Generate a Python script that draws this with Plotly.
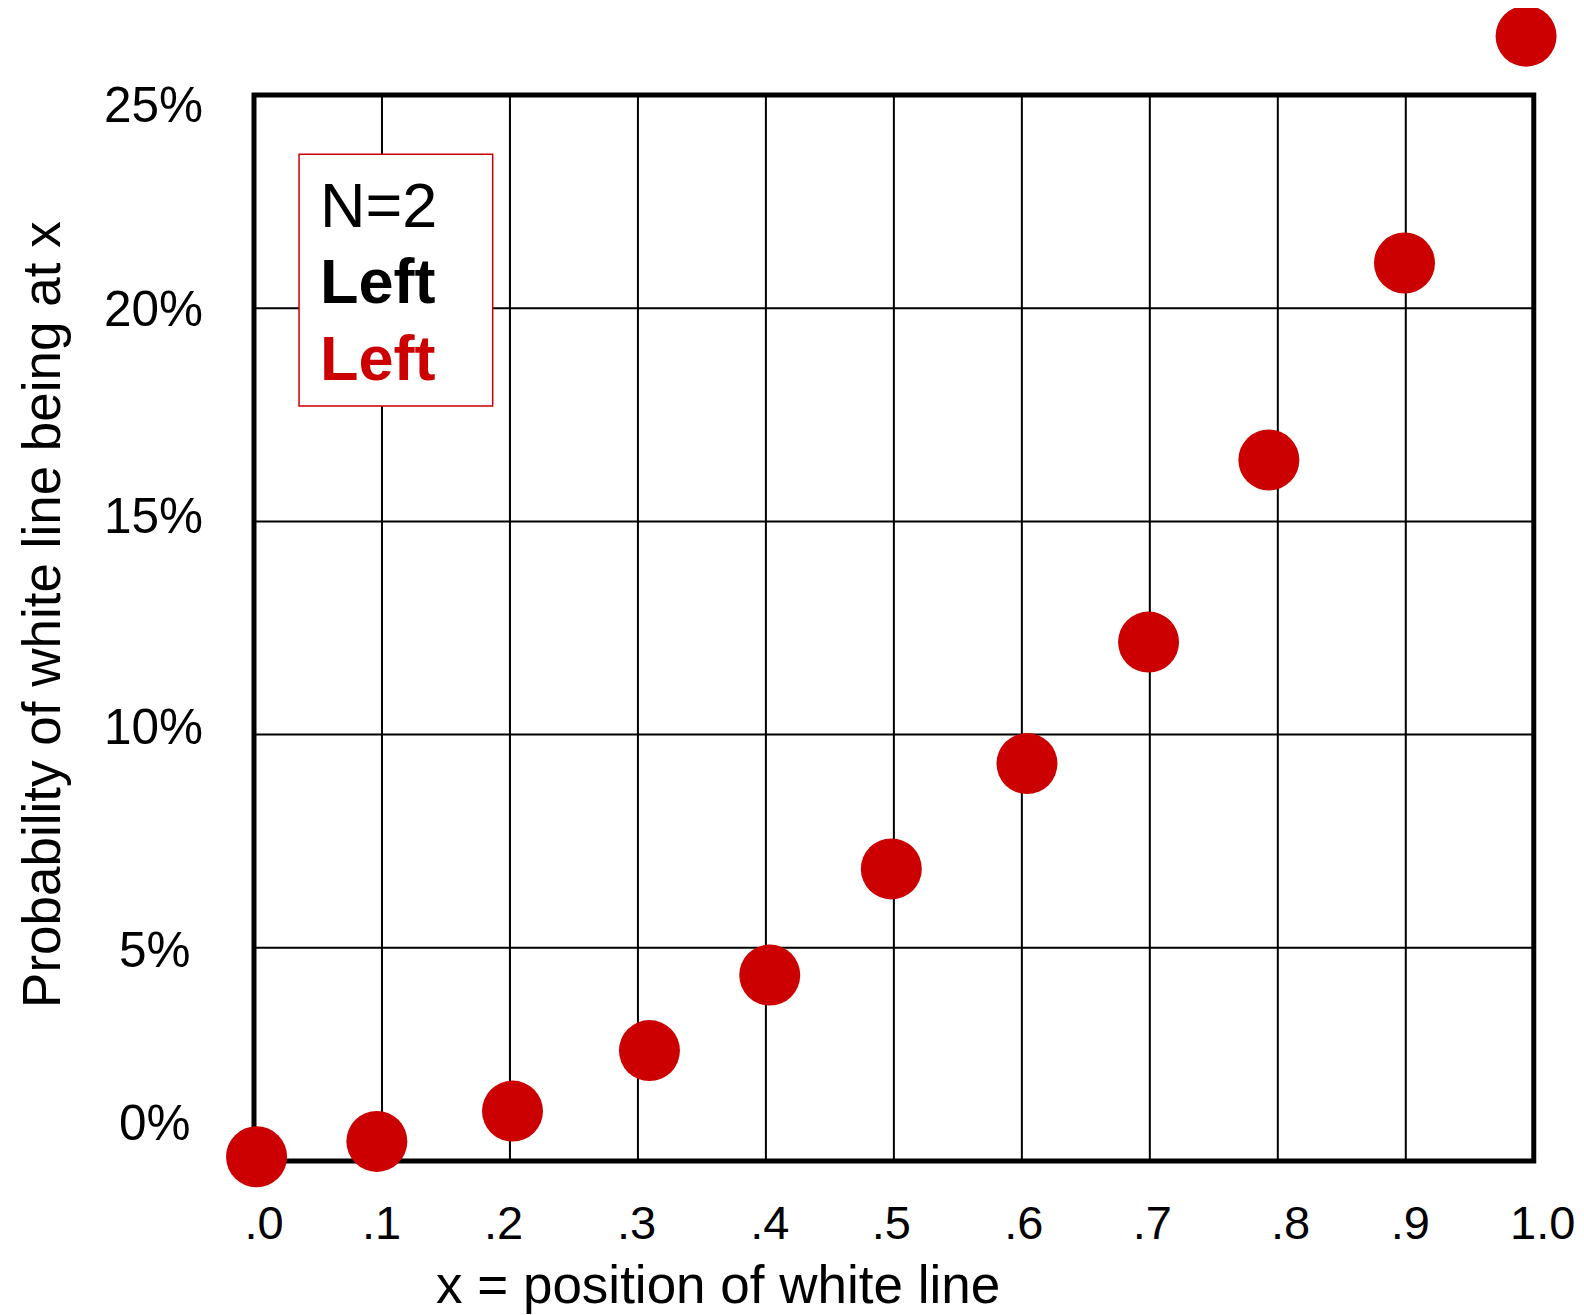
import plotly.graph_objects as go

# ---- data ----
x_pos = [0.002, 0.096, 0.202, 0.309, 0.403, 0.498, 0.604, 0.699, 0.793, 0.899, 0.994]
prob_pct = [0.10, 0.46, 1.17, 2.59, 4.36, 6.85, 9.32, 12.17, 16.44, 21.06, 26.38]

x_grid = [0.0, 0.1, 0.2, 0.3, 0.4, 0.5, 0.6, 0.7, 0.8, 0.9, 1.0]
x_tick_text = [".0", ".1", ".2", ".3", ".4", ".5", ".6", ".7", ".8", ".9", "1.0"]
# where the x labels sit in the original (slightly off the gridlines)
x_label_pos = [0.0078, 0.0997, 0.195, 0.299, 0.403, 0.498, 0.6016, 0.702, 0.810, 0.9035, 1.007]

y_grid = [0, 5, 10, 15, 20, 25]
y_tick_text = ["0%\u2005", "5%\u2005", "10%", "15%", "20%", "25%"]
# where the y labels sit in the original (slightly off the gridlines)
y_label_pos = [0.89, 4.95, 10.18, 15.14, 20.0, 24.77]

legend_lines = ["N=2", "<b>Left</b>", "<b>Left</b>"]
legend_colors = ["black", "black", "#CC0000"]

RED = "#CC0000"
FONT = "Liberation Sans, Arial, sans-serif"
Y_TOP = 27.04   # headroom above the 25% frame so the last dot shows
X_RIGHT = 1.008  # a little room so the "1.0" label is kept

fig = go.Figure()
fig.add_trace(go.Scatter(
    x=x_pos, y=prob_pct, mode="markers",
    marker=dict(size=61, color=RED, line=dict(width=0)),
    cliponaxis=False, showlegend=False, hoverinfo="skip",
))

shapes = []
for g in y_grid[1:-1]:
    shapes.append(dict(type="line", xref="x", yref="y", x0=0, x1=1, y0=g, y1=g,
                       line=dict(color="black", width=2), layer="below"))
for g in x_grid[1:-1]:
    shapes.append(dict(type="line", xref="x", yref="y", x0=g, x1=g, y0=0, y1=y_grid[-1],
                       line=dict(color="black", width=2), layer="below"))
# frame (paper coords so it is not clipped)
shapes.append(dict(type="rect", xref="paper", yref="paper", x0=0, x1=1 / X_RIGHT,
                   y0=0, y1=y_grid[-1] / Y_TOP,
                   line=dict(color="black", width=5), layer="below"))
# legend box
shapes.append(dict(type="rect", xref="x", yref="paper",
                   x0=0.0352, x1=0.1865, y0=0.6548, y1=0.8731,
                   fillcolor="white", line=dict(color=RED, width=1.5), layer="above"))

annotations = []
leg_y = [0.8291, 0.7628, 0.6962]
for txt, col, yy in zip(legend_lines, legend_colors, leg_y):
    annotations.append(dict(text=txt, xref="x", yref="paper", x=0.050, y=yy,
                            xanchor="left", yanchor="middle", showarrow=False,
                            font=dict(family=FONT, size=63, color=col)))
annotations.append(dict(text="x = position of white line", xref="x", yref="paper",
                        x=0.3625, y=-0.1075, xanchor="center", yanchor="middle",
                        showarrow=False, font=dict(family=FONT, size=53, color="black")))
annotations.append(dict(text="Probability of white line being at x", xref="paper", yref="paper",
                        x=-0.1665 / X_RIGHT, y=0.4744, xanchor="center", yanchor="middle",
                        textangle=-90, showarrow=False,
                        font=dict(family=FONT, size=53, color="black")))

fig.update_layout(
    width=1576, height=1307,
    margin=dict(l=246, r=40, t=0, b=154),
    paper_bgcolor="white", plot_bgcolor="white",
    font=dict(family=FONT, size=47, color="black"),
    shapes=shapes, annotations=annotations,
    showlegend=False,
)
fig.update_xaxes(
    range=[0, X_RIGHT], tickmode="array", tickvals=x_label_pos, ticktext=x_tick_text,
    showgrid=False, zeroline=False, showline=False,
    ticks="", ticklabelstandoff=30,
    tickfont=dict(family=FONT, size=47, color="black"),
)
fig.update_yaxes(
    range=[0, Y_TOP], tickmode="array", tickvals=y_label_pos, ticktext=y_tick_text,
    showgrid=False, zeroline=False, showline=False,
    ticks="", ticklabelstandoff=50,
    tickfont=dict(family=FONT, size=49.5, color="black"),
)

fig.write_html("out.html")
